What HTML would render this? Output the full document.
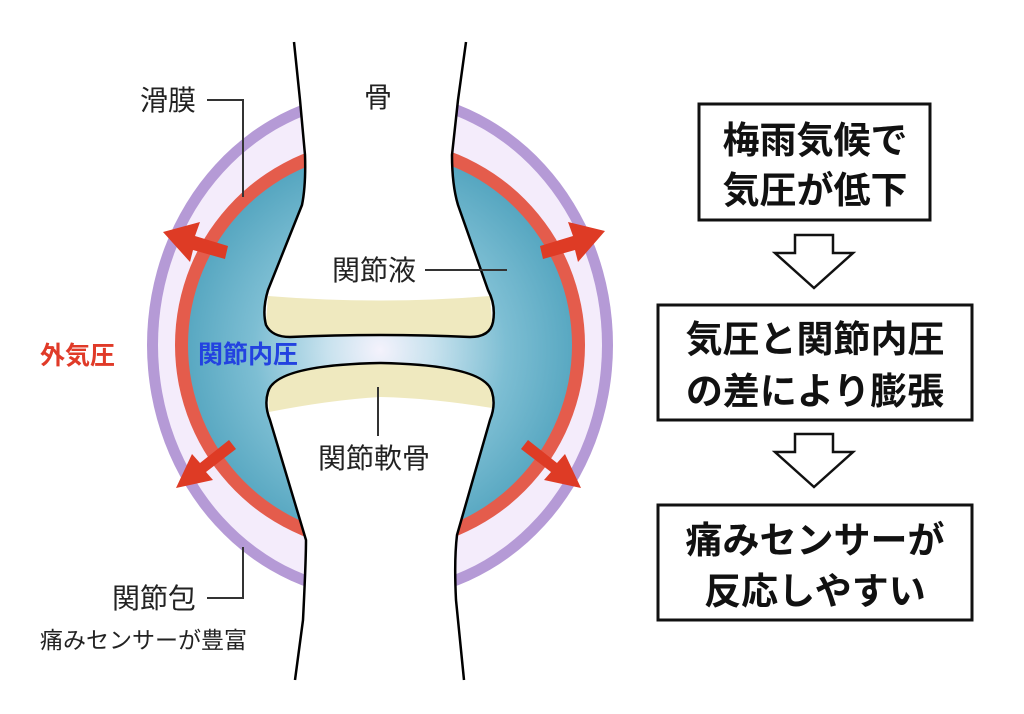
<!DOCTYPE html>
<html><head><meta charset="utf-8"><style>
html,body{margin:0;padding:0;background:#fff;}
svg{display:block;}
text{font-family:"Liberation Sans","Noto Sans CJK JP",sans-serif;}
</style></head><body>
<svg width="1024" height="714" viewBox="0 0 1024 714" xmlns="http://www.w3.org/2000/svg">
<defs>
<radialGradient id="blue" cx="380" cy="350" r="210" gradientUnits="userSpaceOnUse">
<stop offset="0" stop-color="#f4f2fc"/>
<stop offset="0.25" stop-color="#c8e2ee"/>
<stop offset="0.6" stop-color="#7dbed3"/>
<stop offset="1" stop-color="#4fa2bd"/>
</radialGradient>
</defs>
<ellipse cx="380" cy="345" rx="233" ry="255" fill="#b59ad6"/>
<ellipse cx="380" cy="345" rx="222" ry="244" fill="#f4ecfb"/>
<ellipse cx="380" cy="345" rx="205" ry="206" fill="#e45c4c"/>
<ellipse cx="380" cy="345" rx="192" ry="193" fill="url(#blue)"/>
<!-- upper bone -->
<path d="M294,40 L300,100 L305,155 Q306,185 302,205 L268,290 Q262,310 266,325 Q272,337 290,337 Q380,333 470,337 Q490,337 493,322 Q496,305 488,290 L458,205 Q452,185 452,155 L458,100 L466,40 L470,0 L290,0 Z" fill="#fff"/>
<path d="M268,296 Q380,305 490,296 L492,322 Q490,337 470,337 Q380,333 290,337 Q268,337 266,322 Z" fill="#efe9bf"/>
<path d="M294,42 L300,100 L305,155 Q306,185 302,205 L268,290 Q262,310 266,325 Q272,337 290,337 Q380,333 470,337 Q490,337 493,322 Q496,305 488,290 L458,205 Q452,185 452,155 L458,100 L466,42" fill="none" stroke="#000" stroke-width="2.5"/>
<!-- lower bone -->
<path d="M296,690 L303,620 Q306,560 306,540 L270,420 Q264,405 268,392 Q275,365 380,363 Q485,365 492,392 Q496,405 490,420 L457,535 Q454,560 456,600 L464,690 L470,714 L290,714 Z" fill="#fff"/>
<path d="M268,392 Q275,365 380,363 Q485,365 492,392 L492,408 Q430,398 380,397 Q330,400 269,412 Z" fill="#efe9bf"/>
<path d="M295,680 L303,620 Q306,560 306,540 L270,420 Q264,405 268,392 Q275,365 380,363 Q485,365 492,392 Q496,405 490,420 L457,535 Q454,560 456,600 L464,680" fill="none" stroke="#000" stroke-width="2.5"/>
<!-- arrows -->
<g fill="#de3b25" stroke="none">
<path d="M228,246 L195,236 L200,222 L163,232 L190,262 L193,250 L225,259 Z"/>
<path d="M540,246 L573,236 L568,222 L605,231 L578,262 L575,250 L543,259 Z"/>
<path d="M229,440 L200,463 L192,454 L176,488 L213,480 L206,472 L236,449 Z"/>
<path d="M528,440 L557,463 L565,454 L581,488 L544,480 L551,472 L521,449 Z"/>
</g>
<g stroke="#333" stroke-width="2" fill="none">
<polyline points="207,100 243,100 243,197"/>
<line x1="425" y1="270" x2="507" y2="270"/>
<line x1="378" y1="387" x2="378" y2="436"/>
<polyline points="207,598 243,598 243,547"/>
</g>
<g font-size="28" fill="#222">
<text x="140" y="110">滑膜</text>
<text x="364" y="107">骨</text>
<text x="332" y="280">関節液</text>
<text x="318" y="468">関節軟骨</text>
<text x="112" y="608">関節包</text>
</g>
<text x="40" y="648" font-size="23" fill="#222">痛みセンサーが豊富</text>
<text x="40" y="364" font-size="25" font-weight="bold" fill="#e03a28">外気圧</text>
<text x="198" y="363" font-size="25" font-weight="bold" fill="#2342e0">関節内圧</text>
<g fill="#fff" stroke="#111" stroke-width="3">
<rect x="699" y="104" width="231" height="116"/>
<rect x="658" y="305" width="314" height="115"/>
<rect x="658" y="505" width="314" height="115"/>
<path d="M795,235 L833,235 L833,253 L853,253 L814,288 L775,253 L795,253 Z" stroke-width="2.5"/>
<path d="M795,434 L833,434 L833,452 L853,452 L814,487 L775,452 L795,452 Z" stroke-width="2.5"/>
</g>
<g font-size="37" font-weight="bold" fill="#111" text-anchor="middle">
<text x="815" y="153">梅雨気候で</text>
<text x="815" y="203">気圧が低下</text>
<text x="815" y="352">気圧と関節内圧</text>
<text x="815" y="404">の差により膨張</text>
<text x="815" y="553">痛みセンサーが</text>
<text x="815" y="604">反応しやすい</text>
</g>
</svg>
</body></html>
